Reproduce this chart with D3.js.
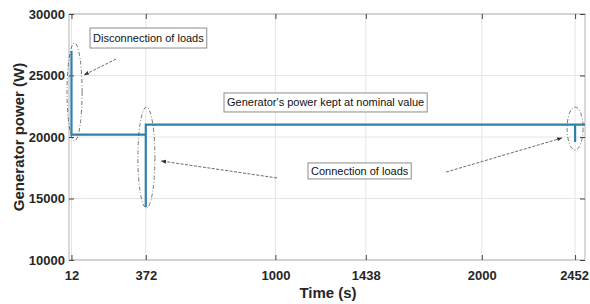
<!DOCTYPE html>
<html>
<head>
<meta charset="utf-8">
<style>
body { margin: 0; background: #fff; }
text { font-family: "Liberation Sans", Arial, sans-serif; }
.tick-label { font-size: 13px; font-weight: bold; fill: #262626; }
.note { font-size: 11px; fill: #111; }
</style>
</head>
<body>
<script src="https://cdn.jsdelivr.net/npm/d3@7/dist/d3.min.js"></script>
<script>

// data
var timeTicks = [12, 372, 1000, 1438, 2000, 2452];
var powerTicks = [10000, 15000, 20000, 25000, 30000];
var time  = [12,    12,    372,   372,   372,   2452,  2452,  2452,  2500];
var power = [27000, 20200, 20200, 14300, 21000, 21000, 19600, 21000, 21000];

// annotations, placed in data units
var ellipses = [
  {t: 27, v: 23660, rx: 7.5, ry: 49},
  {t: 375, v: 18330, rx: 8.5, ry: 50.5},
  {t: 2452, v: 20690, rx: 8, ry: 21.5}
];
var arrows = [
  {t0: 228, v0: 26340, t1: 73, v1: 25040},
  {t0: 1008, v0: 16670, t1: 446, v1: 18050},
  {t0: 1827, v0: 17150, t1: 2389, v1: 19920}
];
var notes = [
  {text: "Disconnection of loads", t: 102, v: 28860, h: 20},
  {text: "Generator's power kept at nominal value", t: 751, v: 23580, h: 19},
  {text: "Connection of loads", t: 1158, v: 17890, h: 16}
];

var width = 590, height = 304;
var x = d3.scaleLinear().domain([0, 2500]).range([69, 585]);
var y = d3.scaleLinear().domain([10000, 30000]).range([260, 14]);

var svg = d3.select("body").append("svg")
    .attr("width", width)
    .attr("height", height);

var defs = svg.append("defs");
defs.append("marker")
    .attr("id", "head")
    .attr("viewBox", "0 0 10 10")
    .attr("refX", 9).attr("refY", 5)
    .attr("markerWidth", 7).attr("markerHeight", 7)
    .attr("orient", "auto")
    .append("path")
    .attr("d", "M0,1.5L10,5L0,8.5z")
    .style("fill", "#333");

// grid
svg.append("g").selectAll("line")
    .data(timeTicks).enter().append("line")
    .attr("x1", function(d) { return x(d); })
    .attr("x2", function(d) { return x(d); })
    .attr("y1", y(10000)).attr("y2", y(30000))
    .style("stroke", "#e4e4e4").style("stroke-width", 1);
svg.append("g").selectAll("line")
    .data(powerTicks).enter().append("line")
    .attr("y1", function(d) { return y(d); })
    .attr("y2", function(d) { return y(d); })
    .attr("x1", x(0)).attr("x2", x(2500))
    .style("stroke", "#e4e4e4").style("stroke-width", 1);

// frame
svg.append("rect")
    .attr("x", x(0)).attr("y", y(30000))
    .attr("width", x(2500) - x(0)).attr("height", y(10000) - y(30000))
    .style("fill", "none").style("stroke", "#b4b4b4").style("stroke-width", 1);

// axes, ticks pointing inward
var fmt = d3.format("d");
var axBottom = svg.append("g").attr("transform", "translate(0," + y(10000) + ")")
    .call(d3.axisBottom(x).tickValues(timeTicks).tickSizeInner(-5).tickSizeOuter(0).tickPadding(11).tickFormat(fmt));
var axTop = svg.append("g").attr("transform", "translate(0," + y(30000) + ")")
    .call(d3.axisTop(x).tickValues(timeTicks).tickSizeInner(-5).tickSizeOuter(0).tickFormat(""));
var axLeft = svg.append("g").attr("transform", "translate(" + x(0) + ",0)")
    .call(d3.axisLeft(y).tickValues(powerTicks).tickSizeInner(-5).tickSizeOuter(0).tickPadding(4).tickFormat(fmt));
var axRight = svg.append("g").attr("transform", "translate(" + x(2500) + ",0)")
    .call(d3.axisRight(y).tickValues(powerTicks).tickSizeInner(-5).tickSizeOuter(0).tickFormat(""));
[axBottom, axTop, axLeft, axRight].forEach(function(a) {
  a.select(".domain").remove();
  a.selectAll(".tick line").style("stroke", "#444");
  a.selectAll(".tick text").attr("class", "tick-label");
});
// the last label sits against the right edge in the original
axBottom.selectAll(".tick text").filter(function(d) { return d === 2452; }).attr("dx", -1);

// generator power
var pts = time.map(function(t, i) { return [t, power[i]]; });
svg.append("path")
    .datum(pts)
    .attr("d", d3.line().x(function(d) { return x(d[0]); }).y(function(d) { return y(d[1]); }))
    .style("fill", "none")
    .style("stroke", "#2f80ab")
    .style("stroke-width", 2.2);

// ellipses
svg.append("g").selectAll("ellipse")
    .data(ellipses).enter().append("ellipse")
    .attr("cx", function(d) { return x(d.t); })
    .attr("cy", function(d) { return y(d.v); })
    .attr("rx", function(d) { return d.rx; })
    .attr("ry", function(d) { return d.ry; })
    .style("fill", "none").style("stroke", "#555")
    .style("stroke-width", 0.8).style("stroke-dasharray", "4,2,1,2");

// arrows
svg.append("g").selectAll("line")
    .data(arrows).enter().append("line")
    .attr("x1", function(d) { return x(d.t0); })
    .attr("y1", function(d) { return y(d.v0); })
    .attr("x2", function(d) { return x(d.t1); })
    .attr("y2", function(d) { return y(d.v1); })
    .style("stroke", "#444").style("stroke-width", 0.8)
    .style("stroke-dasharray", "3,1.5")
    .attr("marker-end", "url(#head)");

// text boxes
var note = svg.append("g").selectAll("g")
    .data(notes).enter().append("g")
    .attr("transform", function(d) { return "translate(" + x(d.t) + "," + y(d.v) + ")"; });
note.append("rect")
    .attr("height", function(d) { return d.h; })
    .style("fill", "#fff").style("stroke", "#8c8c8c").style("stroke-width", 1);
note.append("text")
    .attr("class", "note")
    .attr("x", 3)
    .attr("y", function(d) { return d.h / 2 + 4; })
    .text(function(d) { return d.text; });
note.each(function() {
  var g = d3.select(this);
  var w = g.select("text").node().getComputedTextLength();
  g.select("rect").attr("width", w + 6);
});

// axis titles
svg.append("text")
    .attr("x", 328).attr("y", 298)
    .attr("text-anchor", "middle")
    .style("font-size", "15px").style("font-weight", "bold").style("fill", "#262626")
    .text("Time (s)");
svg.append("text")
    .attr("transform", "translate(24,137) rotate(-90)")
    .attr("text-anchor", "middle")
    .style("font-size", "15px").style("font-weight", "bold").style("fill", "#262626")
    .text("Generator power (W)");

</script>
</body>
</html>
